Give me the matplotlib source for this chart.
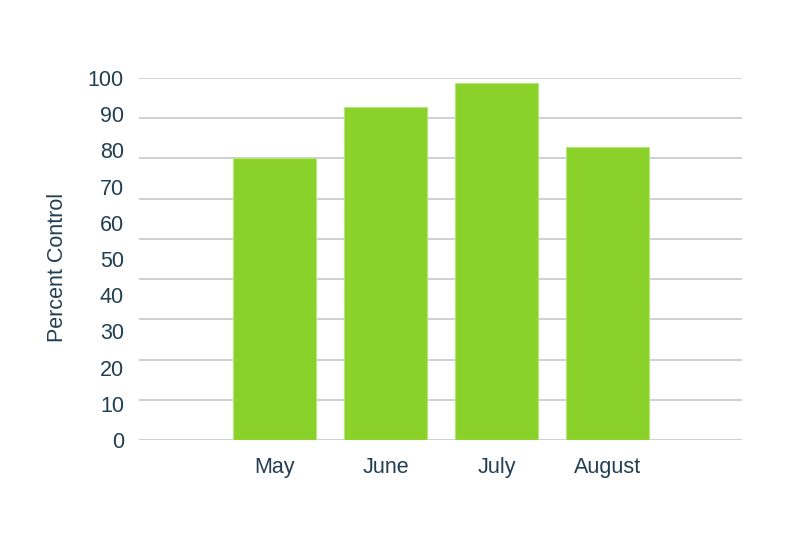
import matplotlib
matplotlib.use("Agg")
import matplotlib.pyplot as plt
import numpy as np

months = ["May", "June", "July", "August"]
percent_control = [78, 92, 98.5, 81]
y_ticks = [0, 10, 20, 30, 40, 50, 60, 70, 80, 90, 100]

text_color = "#223e53"
bar_color = "#8ad22a"
grid_color = "#cdd1d6"

plt.rcParams['font.family'] = ['Liberation Sans', 'DejaVu Sans']

fig = plt.figure(figsize=(8, 5.4), dpi=100)
ax = fig.add_axes([0.174, 0.1852, 0.7535, 0.6704])

x = np.arange(len(months))
ax.bar(x, percent_control, width=0.75, color=bar_color, edgecolor="#b5e67a",
       linewidth=0.8, zorder=3)

ax.set_xlim(-1.224, 4.213)
ax.set_ylim(0, 100)

# gridlines (10 evenly spaced lines spanning the value range)
for g in np.linspace(0, 100, 10):
    ax.axhline(g, color=grid_color, linewidth=1.4, zorder=1)

ax.set_yticks(y_ticks)
ax.set_yticklabels([str(v) for v in y_ticks])
ax.set_xticks(x)
ax.set_xticklabels(months)

ax.tick_params(axis='y', length=0, pad=11, labelsize=15.5, labelcolor=text_color)
ax.tick_params(axis='x', length=0, pad=12, labelsize=15.5, labelcolor=text_color)

for s in ax.spines.values():
    s.set_visible(False)

ax.set_ylabel("Percent Control", fontsize=15.5, color=text_color)
ax.yaxis.set_label_coords(-0.118, 0.4765)

fig.savefig("out.png", dpi=100, facecolor="white")
